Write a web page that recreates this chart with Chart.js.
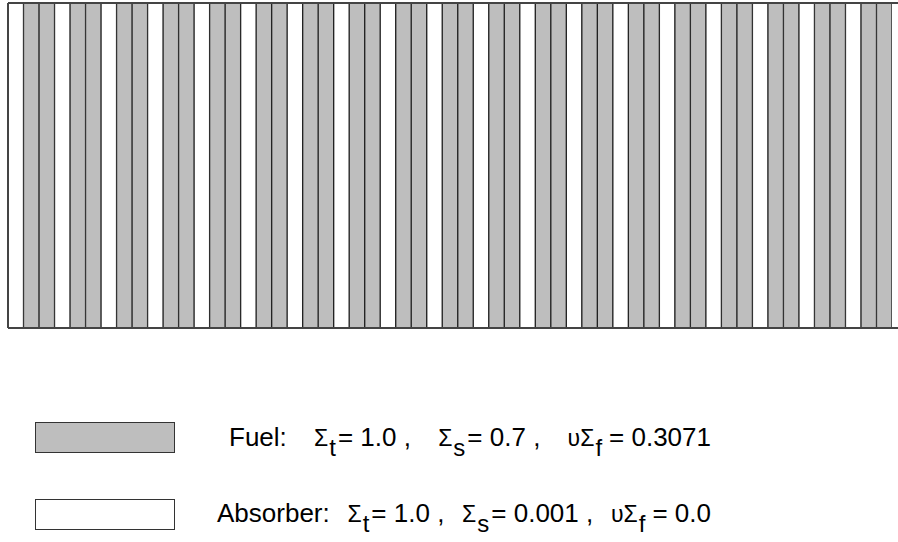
<!DOCTYPE html>
<html>
<head>
<meta charset="utf-8">
<script src="https://cdn.jsdelivr.net/npm/chart.js@4.4.0/dist/chart.umd.min.js"></script>
<style>
  html, body { margin: 0; padding: 0; background: #fff; }
  #wrap { position: relative; width: 898px; height: 542px; overflow: hidden; }
  #box { position: absolute; left: 0; top: 0; width: 898px; height: 332px; }
  .key { position: absolute; left: 35px; width: 140px; height: 31px; border: 1px solid #333; box-sizing: border-box; }
  .seg { position: absolute; font-family: "Liberation Sans", Arial, sans-serif; color: #000;
         white-space: pre; line-height: 1; }
</style>
</head>
<body>
<div id="wrap">
  <div id="box"><canvas id="myChart"></canvas></div>
  <div class="key" style="top:422px;background:#bebebe"></div>
  <div class="key" style="top:499px;background:#fff"></div>
</div>
<script>
// slab cells, left to right
var materials = [
    'Absorber', 'Fuel', 'Fuel', 'Absorber', 'Fuel', 'Fuel', 'Absorber', 'Fuel', 'Fuel',
    'Absorber', 'Fuel', 'Fuel', 'Absorber', 'Fuel', 'Fuel', 'Absorber', 'Fuel', 'Fuel',
    'Absorber', 'Fuel', 'Fuel', 'Absorber', 'Fuel', 'Fuel', 'Absorber', 'Fuel', 'Fuel',
    'Absorber', 'Fuel', 'Fuel', 'Absorber', 'Fuel', 'Fuel', 'Absorber', 'Fuel', 'Fuel',
    'Absorber', 'Fuel', 'Fuel', 'Absorber', 'Fuel', 'Fuel', 'Absorber', 'Fuel', 'Fuel',
    'Absorber', 'Fuel', 'Fuel', 'Absorber', 'Fuel', 'Fuel', 'Absorber', 'Fuel', 'Fuel',
    'Absorber', 'Fuel', 'Fuel'
];
var legendNames = ['Fuel', 'Absorber'];
var sigmaT = ['1.0', '1.0'];
var sigmaS = ['0.7', '0.001'];
var nuSigmaF = ['0.3071', '0.0'];
var fillColors = { Fuel: '#bebebe', Absorber: '#ffffff' };

var labels = materials.map(function (m, i) { return m + ' ' + (i + 1); });

// top, bottom and left edges of the slab (top/bottom run out to the canvas edge)
var frameLines = {
    id: 'frameLines',
    afterDatasetsDraw: function (chart) {
        var a = chart.chartArea, c = chart.ctx;
        c.save();
        c.strokeStyle = '#444';
        c.lineWidth = 2;
        c.beginPath();
        c.moveTo(a.left, a.top); c.lineTo(chart.width, a.top);
        c.moveTo(a.left, a.bottom); c.lineTo(chart.width, a.bottom);
        c.moveTo(a.left, a.top); c.lineTo(a.left, a.bottom);
        c.stroke();
        c.restore();
    }
};

var ctx = document.getElementById('myChart');
var myChart = new Chart(ctx, {
    type: 'bar',
    data: {
        labels: labels,
        datasets: [{
            data: materials.map(function () { return [0, 1]; }),
            backgroundColor: materials.map(function (m) { return fillColors[m]; }),
            borderColor: '#222',
            borderWidth: 1,
            borderSkipped: false,
            barPercentage: 1,
            categoryPercentage: 1
        }]
    },
    options: {
        responsive: true,
        maintainAspectRatio: false,
        animation: false,
        layout: { padding: { left: 8, right: 6, top: 3, bottom: 4 } },
        plugins: { legend: { display: false }, tooltip: { enabled: false } },
        scales: {
            x: { display: false },
            y: { display: false, min: 0, max: 1 }
        }
    },
    plugins: [frameLines]
});

// legend text, laid out along a baseline between a start and an end x
var rowBaseline = [446, 522];
var rowLeft = [229, 217];
var rowRight = 711;
var wrap = document.getElementById('wrap');

function put(text, size) {
    var s = document.createElement('span');
    s.className = 'seg';
    s.textContent = text;
    s.style.fontSize = size + 'px';
    wrap.appendChild(s);
    return s;
}

legendNames.forEach(function (name, r) {
    // text, drop below baseline, font size, gap before (-1 = flexible gap)
    var pieces = [
        [name + ':', 0, 26, 0],
        ['\u03A3', 0, 23, -1], ['t', 10, 24, 1], ['= ' + sigmaT[r] + ' ,', 0, 26, 2],
        ['\u03A3', 0, 23, -1], ['s', 10, 24, 1], ['= ' + sigmaS[r] + ' ,', 0, 26, 2],
        ['\u03C5\u03A3', 0, 23, -1], ['f', 10, 24, 1], ['= ' + nuSigmaF[r], 0, 26, 7]
    ];
    var spans = pieces.map(function (p) { return put(p[0], p[2]); });
    var used = 0, flex = 0;
    spans.forEach(function (s, i) {
        used += s.getBoundingClientRect().width;
        if (pieces[i][3] < 0) flex++; else used += pieces[i][3];
    });
    var gap = (rowRight - rowLeft[r] - used) / flex;
    var x = rowLeft[r];
    spans.forEach(function (s, i) {
        var p = pieces[i];
        x += p[3] < 0 ? gap : p[3];
        s.style.left = x + 'px';
        s.style.top = (rowBaseline[r] + p[1] - 0.8465 * p[2]) + 'px';
        x += s.getBoundingClientRect().width;
    });
});
</script>
</body>
</html>
